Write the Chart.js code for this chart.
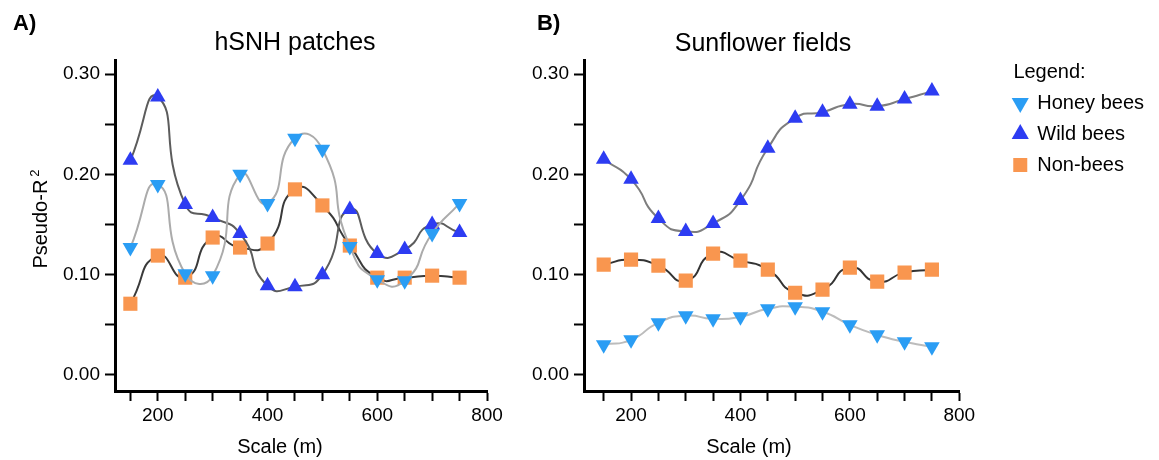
<!DOCTYPE html>
<html><head><meta charset="utf-8">
<script src="https://cdn.jsdelivr.net/npm/chart.js@4/dist/chart.umd.min.js"></script>
<style>
body{margin:0;width:1159px;height:460px;background:#fff;position:relative;overflow:hidden;font-family:"Liberation Sans",Arial,sans-serif;color:#000}
canvas{position:absolute;top:0}
.t{position:absolute;white-space:nowrap;text-align:center;font-family:"Liberation Sans",Arial,sans-serif;color:#000}
</style></head><body>
<canvas id="chartA" width="520" height="460" style="left:0px"></canvas>
<canvas id="chartB" width="1159" height="460" style="left:0px"></canvas>
<div class="t" style="left:13px;top:12px;font-size:22px;line-height:22px;font-weight:bold;text-align:left">A)</div>
<div class="t" style="left:537px;top:12px;font-size:22px;line-height:22px;font-weight:bold;text-align:left">B)</div>
<div class="t" style="left:195px;top:29px;width:200px;font-size:25px;line-height:25px">hSNH patches</div>
<div class="t" style="left:663px;top:30px;width:200px;font-size:25px;line-height:25px">Sunflower fields</div>
<div class="t" style="left:180px;top:436px;width:200px;font-size:20px;line-height:20px">Scale (m)</div>
<div class="t" style="left:649px;top:436px;width:200px;font-size:20px;line-height:20px">Scale (m)</div>
<div class="t" style="left:-40px;top:209px;width:160px;height:20px;font-size:20px;line-height:20px;transform:rotate(-90deg)">Pseudo-R<sup style="font-size:13px;line-height:0;margin-left:3px">2</sup></div>
<script>
// ---- data ----
const scaleM = [150, 200, 250, 300, 350, 400, 450, 500, 550, 600, 650, 700, 750];
const seriesNames = ['Honey bees', 'Wild bees', 'Non-bees'];

const hsnhHoney = [0.127, 0.190, 0.101, 0.099, 0.200, 0.171, 0.236, 0.225, 0.128, 0.095, 0.094, 0.141, 0.171];
const hsnhWild  = [0.214, 0.277, 0.170, 0.157, 0.141, 0.089, 0.088, 0.100, 0.165, 0.121, 0.125, 0.150, 0.142];
const hsnhNon   = [0.071, 0.119, 0.097, 0.137, 0.127, 0.131, 0.185, 0.169, 0.129, 0.097, 0.097, 0.099, 0.097];

const sunHoney = [0.030, 0.035, 0.052, 0.059, 0.056, 0.058, 0.066, 0.068, 0.063, 0.050, 0.040, 0.033, 0.028];
const sunWild  = [0.215, 0.195, 0.156, 0.143, 0.151, 0.174, 0.226, 0.256, 0.262, 0.270, 0.268, 0.275, 0.283];
const sunNon   = [0.110, 0.115, 0.109, 0.094, 0.121, 0.114, 0.105, 0.082, 0.085, 0.107, 0.093, 0.102, 0.105];

const xTickLabels = [200, 400, 600, 800];
const yTickLabels = ['0.00', '0.10', '0.20', '0.30'];

// ---- styles ----
const FONT = '"Liberation Sans", Arial, sans-serif';
const markerStyle = [
  {pointStyle: 'triangle', rotation: 180, color: '#2a9df4', radius: 9},
  {pointStyle: 'triangle', rotation: 0, color: '#2d3cf2', radius: 9},
  {pointStyle: 'rect', rotation: 0, color: '#f9964f', radius: 10}
];

function pts(vals) { return scaleM.map((x, i) => ({x: x, y: vals[i]})); }

function makeDatasets(valsList, lineColors) {
  return valsList.map((vals, i) => ({
    label: seriesNames[i],
    data: pts(vals),
    borderColor: lineColors[i],
    borderWidth: 2,
    tension: 0.6,
    fill: false,
    pointStyle: markerStyle[i].pointStyle,
    pointRotation: markerStyle[i].rotation,
    pointRadius: markerStyle[i].radius,
    pointHoverRadius: markerStyle[i].radius,
    pointBackgroundColor: markerStyle[i].color,
    pointBorderColor: markerStyle[i].color,
    pointBorderWidth: 0
  }));
}

function axisX(min) {
  return {
    type: 'linear', min: min, max: 800,
    border: {display: true, color: '#000', width: 3},
    grid: {drawOnChartArea: false, drawTicks: true, tickLength: 10, tickColor: '#000', tickWidth: 2, color: '#000'},
    ticks: {
      stepSize: 50, includeBounds: false, autoSkip: false, maxRotation: 0, minRotation: 0,
      color: '#000', font: {family: FONT, size: 19}, padding: 3,
      callback: v => xTickLabels.includes(v) ? String(v) : ''
    },
    afterFit: s => { s.height = 69; }
  };
}
function axisY(width) {
  return {
    type: 'linear', min: -0.016, max: 0.314,
    border: {display: true, color: '#000', width: 3},
    grid: {drawOnChartArea: false, drawTicks: true, tickLength: 10, tickColor: '#000', tickWidth: 2, color: '#000'},
    ticks: {
      stepSize: 0.05, includeBounds: false, autoSkip: false,
      color: '#000', font: {family: FONT, size: 19}, padding: 5,
      callback: v => { const s = v.toFixed(2); return yTickLabels.includes(s) ? s : ''; }
    },
    afterFit: s => { s.width = width; }
  };
}

Chart.defaults.font.family = FONT;

new Chart(document.getElementById('chartA'), {
  type: 'line',
  data: {datasets: makeDatasets([hsnhHoney, hsnhWild, hsnhNon], ['#ababab', '#5c5c5c', '#3a3a3a'])},
  options: {
    responsive: false, animation: false, devicePixelRatio: 1,
    layout: {padding: {top: 60, right: 33, left: 0, bottom: 0}},
    plugins: {legend: {display: false}, tooltip: {enabled: false}, title: {display: false}},
    scales: {x: axisX(122), y: axisY(115)}
  }
});

new Chart(document.getElementById('chartB'), {
  type: 'line',
  data: {datasets: makeDatasets([sunHoney, sunWild, sunNon], ['#bcbcbc', '#7e7e7e', '#333333'])},
  options: {
    responsive: false, animation: false, devicePixelRatio: 1,
    layout: {padding: {top: 60, right: 5, left: 0, bottom: 0}},
    plugins: {
      tooltip: {enabled: false},
      legend: {
        display: true, position: 'right', align: 'start',
        title: {display: true, text: '  Legend:', position: 'start', color: '#000',
                font: {family: FONT, size: 20, lineHeight: 1}, padding: {top: 2, bottom: 0}},
        labels: {usePointStyle: true, boxWidth: 14, boxHeight: 14, padding: 11, color: '#000',
                 font: {family: FONT, size: 20}}
      }
    },
    scales: {
      x: axisX(114),
      y: axisY(584),
      pad: {type: 'linear', position: 'right', display: true,
            grid: {display: false}, border: {display: false}, ticks: {display: false},
            afterFit: s => { s.width = 43; }}
    }
  }
});
</script>
</body></html>
